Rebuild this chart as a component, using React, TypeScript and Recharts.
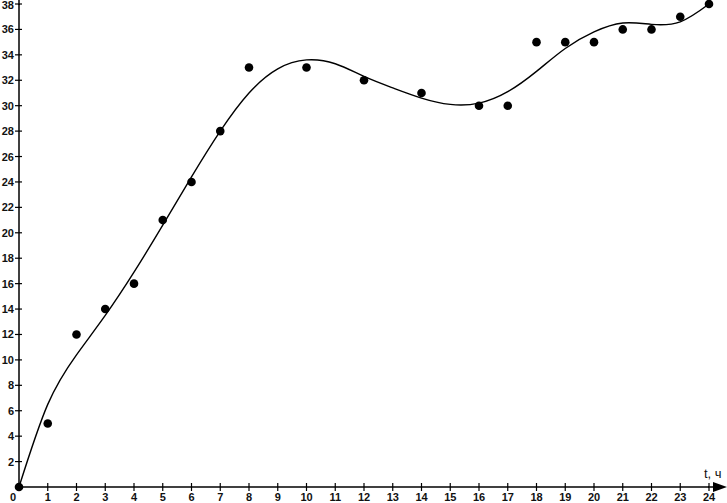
import React from 'react';
import { ComposedChart, Line, XAxis, YAxis } from 'recharts';

// hours, t
const hours = [0, 1, 2, 3, 4, 5, 6, 7, 8, 9, 10, 11, 12, 13, 14, 15, 16, 17, 18, 19, 20, 21, 22, 23, 24];
// measured points (null = no measurement at that hour)
const measured = [0, 5, 12, 14, 16, 21, 24, 28, 33, null, 33, null, 32, null, 31, null, 30, 30, 35, 35, 35, 36, 36, 37, 38];
// smooth fitted curve
const fitted = [0, 6.5, 10.4, 13.5, 16.9, 20.6, 24.4, 28.0, 31.0, 32.9, 33.6, 33.3, 32.3, 31.4, 30.6, 30.1, 30.2, 31.1, 32.7, 34.5, 35.8, 36.5, 36.4, 36.6, 38.0];

const xTicks = hours;
const yTicks = [2, 4, 6, 8, 10, 12, 14, 16, 18, 20, 22, 24, 26, 28, 30, 32, 34, 36, 38];

const data = hours.map((t, i) => ({ t, measured: measured[i], fitted: fitted[i] }));

const FONT = '"Liberation Sans", Arial, sans-serif';

const YTick = (props: any) => {
    const { x, y, payload } = props;
    // keep the top label inside the picture
    const baseline = Math.max(y + 4, 9);
    return (
        <g>
            <line x1={x - 4} x2={x + 3} y1={y} y2={y} stroke="#000" strokeWidth={1.2} />
            <text x={x - 5} y={baseline} textAnchor="end" fontSize={11} fontWeight="bold" fontFamily={FONT} fill="#111">
                {payload.value}
            </text>
        </g>
    );
};

const XTick = (props: any) => {
    const { x, y, payload } = props;
    const shift = payload.value === 0 ? -6 : 0;
    return (
        <g>
            {payload.value !== 0 && (
                <line x1={x} x2={x} y1={y - 4} y2={y + 4} stroke="#000" strokeWidth={1.2} />
            )}
            <text x={x + shift} y={y + 14} textAnchor="middle" fontSize={11} fontWeight="bold" fontFamily={FONT} fill="#111">
                {payload.value}
            </text>
        </g>
    );
};

const App: React.FC = () => {
    return (
        <div style={{ position: 'absolute', left: 0, top: 0, width: 727, height: 503, background: '#fff' }}>
            <ComposedChart
                width={727}
                height={503}
                data={data}
                margin={{ top: 4, right: 18, left: 0, bottom: 0 }}
            >
                <XAxis
                    dataKey="t"
                    type="number"
                    domain={[0, 24]}
                    ticks={xTicks}
                    interval={0}
                    height={16}
                    tickSize={0}
                    tickMargin={0}
                    tickLine={false}
                    axisLine={{ stroke: '#000', strokeWidth: 1.5 }}
                    tick={<XTick />}
                />
                <YAxis
                    type="number"
                    domain={[0, 38]}
                    ticks={yTicks}
                    interval={0}
                    width={19}
                    tickSize={0}
                    tickMargin={0}
                    tickLine={false}
                    axisLine={{ stroke: '#000', strokeWidth: 1.5 }}
                    tick={<YTick />}
                />
                <Line
                    dataKey="fitted"
                    type="natural"
                    stroke="#000"
                    strokeWidth={1.4}
                    dot={false}
                    isAnimationActive={false}
                />
                <Line
                    dataKey="measured"
                    stroke="none"
                    strokeWidth={0}
                    dot={{ r: 4.3, fill: '#000', stroke: 'none' }}
                    activeDot={false}
                    isAnimationActive={false}
                />
            </ComposedChart>
            <svg
                width={727}
                height={503}
                style={{ position: 'absolute', left: 0, top: 0, pointerEvents: 'none' }}
            >
                <line x1={19} x2={19} y1={0} y2={5} stroke="#000" strokeWidth={1.5} />
                <line x1={708} x2={716} y1={487} y2={487} stroke="#000" strokeWidth={1.5} />
                <polygon points="713,482 727,487 713,492" fill="#000" />
                <text x={704} y={478} fontSize={13} fontFamily={FONT} fill="#111">t, ч</text>
            </svg>
        </div>
    );
};

export default App;
